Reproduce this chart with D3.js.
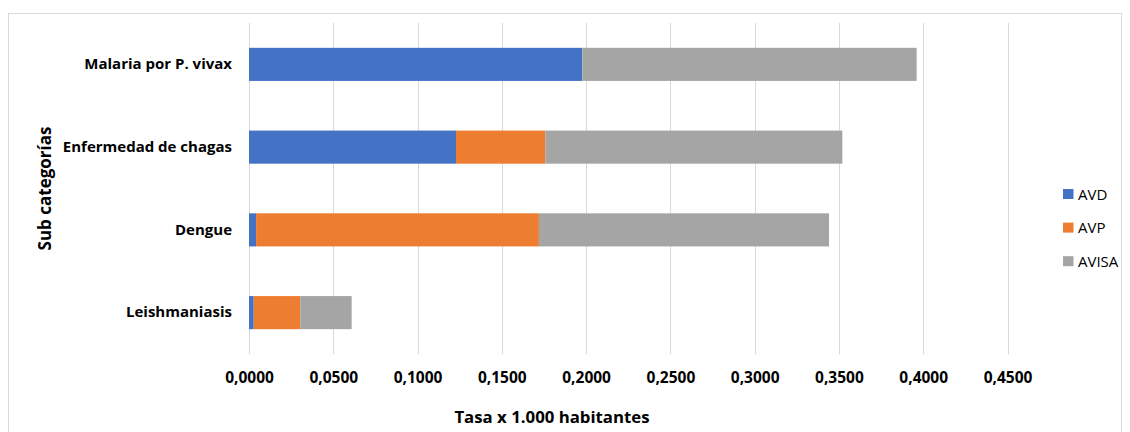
<!DOCTYPE html>
<html>
<head>
<meta charset="utf-8">
<script src="https://cdn.jsdelivr.net/npm/d3@7"></script>
<style>
  body { margin: 0; background: #fff; }
  text { font-family: "Open Sans", sans-serif; fill: #000; }
</style>
</head>
<body>
<script>
// DATA
const categories = ['Malaria por P. vivax', 'Enfermedad de chagas', 'Dengue', 'Leishmaniasis'];
const seriesNames = ['AVD', 'AVP', 'AVISA'];
const avd = [0.1977, 0.1228, 0.0042, 0.0028];
const avp = [0.0000, 0.0530, 0.1678, 0.0276];
const avisa = [0.1984, 0.1762, 0.1721, 0.0305];
const xTicks = [0, 0.05, 0.1, 0.15, 0.2, 0.25, 0.3, 0.35, 0.4, 0.45];
const xTitle = 'Tasa x 1.000 habitantes';
const yTitle = 'Sub categorías';

// CONFIGURATION
const width = 1130;
const height = 432;
const colors = ['#4472C4', '#ED7D31', '#A5A5A5'];
const plot = { left: 249, right: 1007.5, top: 23, bottom: 354 };
const font = '"Open Sans", sans-serif';

const rows = categories.map((c, i) => ({ category: c, AVD: avd[i], AVP: avp[i], AVISA: avisa[i] }));
const stacked = d3.stack().keys(seriesNames)(rows);

const svg = d3.select('body')
	.append('svg')
	.attr('width', width)
	.attr('height', height);

// FRAME
svg.append('rect')
	.attr('x', 8.5)
	.attr('y', 13.5)
	.attr('width', 1113)
	.attr('height', 440)
	.attr('fill', 'none')
	.attr('stroke', '#d9d9d9');

// SCALES
const xScale = d3.scaleLinear()
	.domain([0, 0.45])
	.range([plot.left, plot.right]);
const yScale = d3.scaleBand()
	.domain(categories)
	.range([plot.top, plot.bottom])
	.paddingInner(0.6)
	.paddingOuter(0.3);

// GRIDLINES
svg.append('g')
	.selectAll('line')
	.data(xTicks)
	.enter()
	.append('line')
	.attr('x1', d => Math.round(xScale(d)) + 0.5)
	.attr('x2', d => Math.round(xScale(d)) + 0.5)
	.attr('y1', plot.top)
	.attr('y2', plot.bottom)
	.attr('stroke', '#d9d9d9')
	.attr('stroke-width', 1);

// X AXIS
const xAxis = d3.axisBottom(xScale)
	.tickValues(xTicks)
	.tickSize(0)
	.tickPadding(0)
	.tickFormat(d => d.toFixed(4).replace('.', ','));
svg.append('g')
	.attr('transform', `translate(0, 383)`)
	.call(xAxis)
	.call(g => g.select('.domain').remove())
	.selectAll('text')
	.attr('dy', 0)
	.style('font-size', '15.5px')
	.style('font-weight', 'bold')
	.style('font-family', font)
	.attr('fill', '#000');

// Y AXIS
const yAxis = d3.axisLeft(yScale)
	.tickSize(0)
	.tickPadding(17);
svg.append('g')
	.attr('transform', `translate(${plot.left}, 0)`)
	.call(yAxis)
	.call(g => g.select('.domain').remove())
	.selectAll('text')
	.style('font-size', '15px')
	.style('font-weight', 'bold')
	.style('font-family', font)
	.attr('fill', '#000');

// BARS
svg.append('g')
	.selectAll('g')
	.data(stacked)
	.enter()
	.append('g')
	.attr('fill', (s, i) => colors[i])
	.selectAll('rect')
	.data(s => s)
	.enter()
	.append('rect')
	.attr('x', d => xScale(d[0]))
	.attr('y', d => yScale(d.data.category))
	.attr('width', d => xScale(d[1]) - xScale(d[0]))
	.attr('height', yScale.bandwidth());

// AXIS TITLES
svg.append('text')
	.attr('x', 552)
	.attr('y', 423)
	.attr('text-anchor', 'middle')
	.style('font-size', '16.8px')
	.style('font-weight', 'bold')
	.text(xTitle);

svg.append('text')
	.attr('transform', `translate(51, ${(plot.top + plot.bottom) / 2}) rotate(-90)`)
	.attr('text-anchor', 'middle')
	.style('font-size', '17px')
	.style('font-weight', 'bold')
	.text(yTitle);

// LEGEND
const legend = svg.append('g')
	.attr('transform', 'translate(1063, 189)');
const item = legend.selectAll('g')
	.data(seriesNames)
	.enter()
	.append('g')
	.attr('transform', (d, i) => `translate(0, ${i * 33.6})`);
item.append('rect')
	.attr('width', 10.5)
	.attr('height', 10)
	.attr('fill', (d, i) => colors[i]);
item.append('text')
	.attr('x', 15)
	.attr('y', 10.5)
	.style('font-size', '15px')
	.text(d => d);
</script>
</body>
</html>
